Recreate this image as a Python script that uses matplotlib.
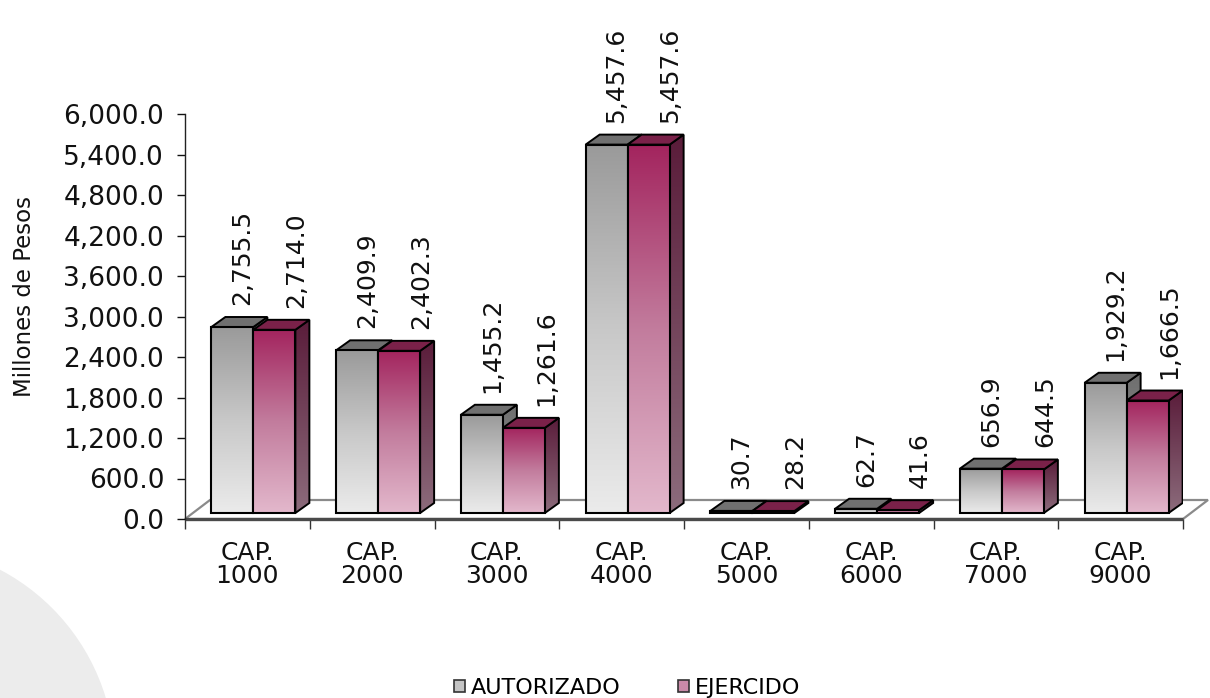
import matplotlib
matplotlib.use("Agg")
import matplotlib.pyplot as plt
import numpy as np
from matplotlib.colors import LinearSegmentedColormap
from matplotlib.patches import Polygon, Circle, Patch
from matplotlib.ticker import FuncFormatter, MultipleLocator

# Datos del grafico
capitulos = ["CAP.\n1000", "CAP.\n2000", "CAP.\n3000", "CAP.\n4000",
             "CAP.\n5000", "CAP.\n6000", "CAP.\n7000", "CAP.\n9000"]
autorizado = [2755.5, 2409.9, 1455.2, 5457.6, 30.7, 62.7, 656.9, 1929.2]
ejercido = [2714.0, 2402.3, 1261.6, 5457.6, 28.2, 41.6, 644.5, 1666.5]
series = ["AUTORIZADO", "EJERCIDO"]

plt.rcParams["font.family"] = ["DejaVu Sans"]

W, H, DPI = 1210, 698, 100
fig = plt.figure(figsize=(W / DPI, H / DPI), dpi=DPI)

# marca de agua gris abajo a la izquierda
fig.patches.append(Circle((-1.0, -0.62), 2.15, transform=fig.dpi_scale_trans,
                          facecolor="#ececec", edgecolor="none", zorder=0))

ax = fig.add_axes([185 / W, (H - 519) / H, 998 / W, 405 / H])
ax.patch.set_alpha(0)

n = len(capitulos)
YMAX = 6000.0
px_x = n / 998.0          # unidades de categoria por pixel
px_y = YMAX / 405.0       # unidades de valor por pixel

# profundidades (pixeles -> datos)
piso_dx, piso_dy = 25 * px_x, 19 * px_y
frente_dx, frente_dy = 6 * px_x, 6 * px_y
prof_dx, prof_dy = 14 * px_x, 10 * px_y
ancho = 42 * px_x
hueco = (1 - 2 * ancho) / 2

# piso
piso = Polygon([(0, 0), (n, 0), (n + piso_dx, piso_dy), (piso_dx, piso_dy)],
               closed=True, facecolor="white", edgecolor="#8a8a8a", lw=1.6,
               zorder=1, clip_on=False)
ax.add_patch(piso)
ax.plot([0, n], [0, 0], color="#4a4a4a", lw=2.4, zorder=2,
        solid_capstyle="butt", clip_on=False)

estilos = [
    dict(frente=["#ebebeb", "#c8c8c8", "#9a9a9a"], lado=["#9c9c9c", "#6e6e6e"],
         tapa="#707070", leyenda="#c4c4c4", lab_dx=10),
    dict(frente=["#e3b8cc", "#c27c9d", "#a3245e"], lado=["#8c6c7c", "#5a1c3a"],
         tapa="#7a2149", leyenda="#c98aa8", lab_dx=22),
]

grad = np.linspace(0, 1, 256).reshape(-1, 1)

for s, valores in enumerate([autorizado, ejercido]):
    est = estilos[s]
    cmap_f = LinearSegmentedColormap.from_list("f%d" % s, est["frente"])
    cmap_l = LinearSegmentedColormap.from_list("l%d" % s, est["lado"])
    for i, v in enumerate(valores):
        x0 = i + hueco + s * ancho + frente_dx
        x1 = x0 + ancho
        y0 = frente_dy
        y1 = y0 + v
        z = 3 + s

        # cara lateral
        lado = Polygon([(x1, y0), (x1 + prof_dx, y0 + prof_dy),
                        (x1 + prof_dx, y1 + prof_dy), (x1, y1)], closed=True,
                       facecolor="none", edgecolor="black", lw=1.4, zorder=z + 0.2)
        ax.add_patch(lado)
        im = ax.imshow(grad, cmap=cmap_l, origin="lower", aspect="auto",
                       extent=[x1, x1 + prof_dx, y0, y1 + prof_dy], zorder=z + 0.1)
        im.set_clip_path(lado)

        # cara superior
        ax.add_patch(Polygon([(x0, y1), (x1, y1), (x1 + prof_dx, y1 + prof_dy),
                              (x0 + prof_dx, y1 + prof_dy)], closed=True,
                             facecolor=est["tapa"], edgecolor="black", lw=1.4,
                             zorder=z + 0.2))

        # cara frontal
        ax.imshow(grad, cmap=cmap_f, origin="lower", aspect="auto",
                  extent=[x0, x1, y0, y1], zorder=z + 0.3)
        ax.add_patch(plt.Rectangle((x0, y0), ancho, v, facecolor="none",
                                   edgecolor="black", lw=1.5, zorder=z + 0.4))

        # etiqueta de valor
        ax.annotate(f"{v:,.1f}", xy=((x0 + x1) / 2, y1), xycoords="data",
                    xytext=(est["lab_dx"] * 0.72, 22 * 0.72), textcoords="offset points",
                    rotation=90, ha="center", va="bottom", fontsize=18,
                    color="#111111", annotation_clip=False, zorder=10)

ax.set_xlim(0, n)
ax.set_ylim(0, YMAX)

# ejes
for lado_sp in ["top", "right", "bottom"]:
    ax.spines[lado_sp].set_visible(False)
ax.spines["left"].set_color("#222222")
ax.spines["left"].set_linewidth(1.0)

ax.yaxis.set_major_locator(MultipleLocator(600))
ax.yaxis.set_major_formatter(FuncFormatter(lambda v, p: f"{v:,.1f}"))
ax.tick_params(axis="y", direction="out", length=6, width=1, pad=9,
               labelsize=19, colors="#111111")

ax.set_xticks(np.arange(n) + 0.5)
ax.set_xticklabels(capitulos, fontsize=18, linespacing=0.95, color="#111111")
ax.set_xticks(np.arange(n + 1), minor=True)
ax.tick_params(axis="x", which="major", length=0, pad=16)
ax.tick_params(axis="x", which="minor", direction="out", length=7, width=1,
               color="#333333")

fig.text(25 / W, 1 - 297 / H, "Millones de Pesos", rotation=90, ha="center",
         va="center", fontsize=16.5, color="#111111")

handles = [Patch(facecolor=e["leyenda"], edgecolor="#333333", lw=1.2) for e in estilos]
fig.legend(handles, series, loc="center", bbox_to_anchor=(627 / W, 1 - 688 / H),
           ncol=2, frameon=False, fontsize=16, handlelength=0.5, handleheight=0.5,
           handletextpad=0.25, columnspacing=2.6, borderpad=0, borderaxespad=0)

fig.savefig("out.png", dpi=DPI)
